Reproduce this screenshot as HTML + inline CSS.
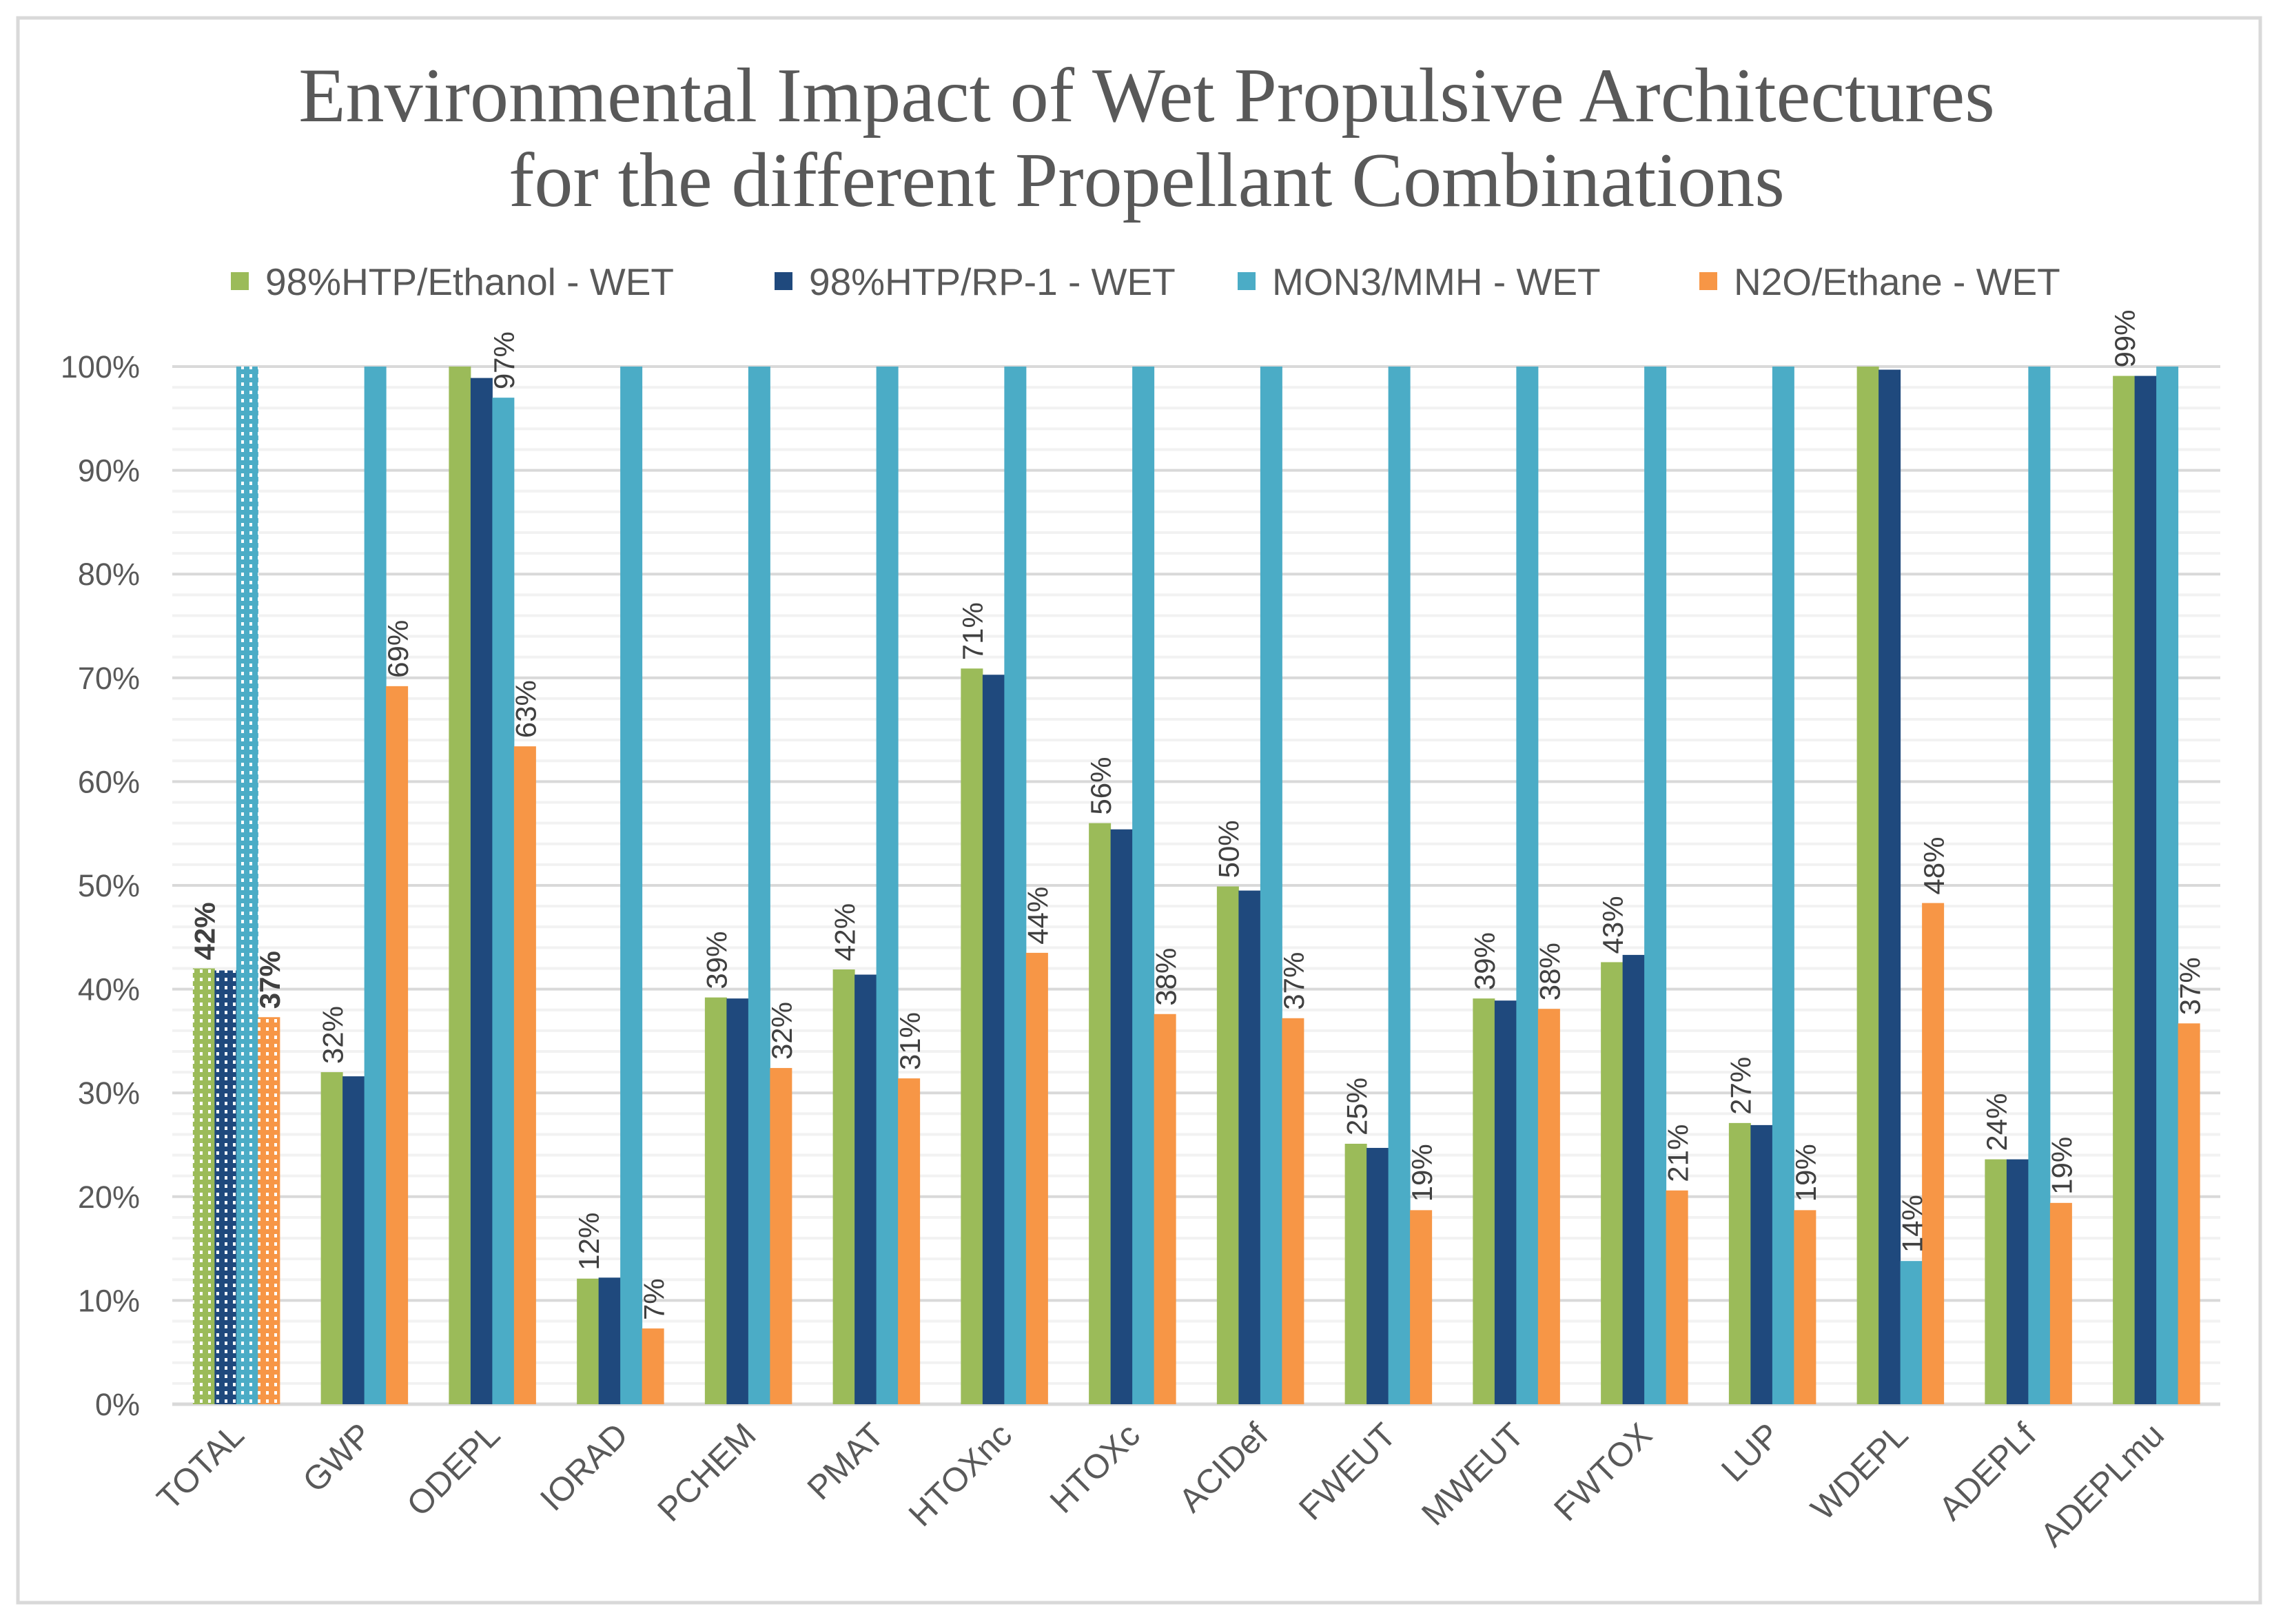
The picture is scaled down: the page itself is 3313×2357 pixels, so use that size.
<!DOCTYPE html>
<html><head><meta charset="utf-8"><style>
html,body{margin:0;padding:0;background:#fff;}
svg{display:block;font-family:"Liberation Sans",sans-serif;}
</style></head><body>
<svg id="chart" width="3313" height="2357" viewBox="0 0 3313 2357" xmlns="http://www.w3.org/2000/svg">
<defs>
<pattern id="p0" width="12" height="12" patternUnits="userSpaceOnUse"><rect width="12" height="12" fill="#9bbb59"/><rect x="2" y="3" width="4" height="5" fill="#fff"/></pattern>
<pattern id="p1" width="12" height="12" patternUnits="userSpaceOnUse"><rect width="12" height="12" fill="#1f497d"/><rect x="2" y="3" width="4" height="5" fill="#fff"/></pattern>
<pattern id="p2" width="12" height="12" patternUnits="userSpaceOnUse"><rect width="12" height="12" fill="#4bacc6"/><rect x="2" y="3" width="4" height="5" fill="#fff"/></pattern>
<pattern id="p3" width="12" height="12" patternUnits="userSpaceOnUse"><rect width="12" height="12" fill="#f79646"/><rect x="2" y="3" width="4" height="5" fill="#fff"/></pattern>
</defs>
<rect x="26" y="26" width="3254" height="2300" fill="#fff" stroke="#d9d9d9" stroke-width="5"/>
<text x="1664" y="176" text-anchor="middle" font-family="Liberation Serif, serif" font-size="112" fill="#595959">Environmental Impact of Wet Propulsive Architectures</text>
<text x="1664" y="299" text-anchor="middle" font-family="Liberation Serif, serif" font-size="112" fill="#595959">for the different Propellant Combinations</text>
<g id="grid"></g><g id="bars"></g><g id="labels"></g><g id="legend"></g>
</svg>
<script>
const categories=["TOTAL","GWP","ODEPL","IORAD","PCHEM","PMAT","HTOXnc","HTOXc","ACIDef","FWEUT","MWEUT","FWTOX","LUP","WDEPL","ADEPLf","ADEPLmu"];
const seriesNames=["98%HTP/Ethanol - WET","98%HTP/RP-1 - WET","MON3/MMH - WET","N2O/Ethane - WET"];
const ethanol=[42,32,100,12.1,39.2,41.9,70.9,56,49.9,25.1,39.1,42.6,27.1,100,23.6,99.1];
const rp1=[41.8,31.6,98.9,12.2,39.1,41.4,70.3,55.4,49.5,24.7,38.9,43.3,26.9,99.7,23.6,99.1];
const mmh=[100,100,97,100,100,100,100,100,100,100,100,100,100,13.8,100,100];
const ethane=[37.3,69.2,63.4,7.3,32.4,31.4,43.5,37.6,37.2,18.7,38.1,20.6,18.7,48.3,19.4,36.7];
// labelled bars: [category index, series index]
const labelled=[[0,0],[0,3],[1,0],[1,3],[2,2],[2,3],[3,0],[3,3],[4,0],[4,3],[5,0],[5,3],[6,0],[6,3],[7,0],[7,3],[8,0],[8,3],[9,0],[9,3],[10,0],[10,3],[11,0],[11,3],[12,0],[12,3],[13,2],[13,3],[14,0],[14,3],[15,0],[15,3]];
const yTicks=[0,10,20,30,40,50,60,70,80,90,100];
const colors=["#9bbb59","#1f497d","#4bacc6","#f79646"];
const series=[ethanol,rp1,mmh,ethane];
const NS="http://www.w3.org/2000/svg";
const L=250,R=3222,Y0=2038,Y100=532;
const step=(R-L)/categories.length, bw=31.5;
const y=v=>Y0-(Y0-Y100)*v/100;
const xb=(c,s)=>L+step*(c+0.5)+(s-2)*bw;
function mk(tag,attrs,parent){const e=document.createElementNS(NS,tag);for(const k in attrs)e.setAttribute(k,attrs[k]);parent.appendChild(e);return e;}
const grid=document.getElementById('grid'),bars=document.getElementById('bars'),labels=document.getElementById('labels'),legend=document.getElementById('legend');
for(let v=2;v<100;v+=2){if(v%10===0)continue;const g=mk('line',{x1:L,x2:R,y1:y(v),y2:y(v),stroke:'#f2f2f2','stroke-width':4},grid);

}
yTicks.forEach(v=>{const g=mk('line',{x1:L,x2:R,y1:y(v),y2:y(v),stroke:'#d9d9d9','stroke-width':v===0?5:4},grid);


const t=mk('text',{x:203,y:y(v)+16,'text-anchor':'end','font-size':45,fill:'#595959'},grid);t.textContent=v+'%';

});
categories.forEach((c,i)=>{series.forEach((s,j)=>{const r=mk('rect',{x:xb(i,j),y:y(s[i]),width:bw+0.5,height:Y0-y(s[i]),fill:i===0?'url(#p'+j+')':colors[j]},bars);

});
const cx=L+step*(i+0.5)+14, cy=2086;
const t=mk('text',{x:cx,y:cy,'text-anchor':'end','font-size':49,fill:'#595959',transform:`rotate(-45 ${cx} ${cy})`},labels);t.textContent=c;

});
labelled.forEach(([i,j])=>{const v=series[j][i];const lx=xb(i,j)+bw/2+16, ly=y(v)-12;
const t=mk('text',{x:lx,y:ly,'font-size':42,fill:'#404040','font-weight':i===0?'bold':'normal',transform:`rotate(-90 ${lx} ${ly})`},labels);t.textContent=Math.round(v)+'%';

});
const lx=[335,1124,1796,2466];
seriesNames.forEach((n,j)=>{const r=mk('rect',{x:lx[j],y:395,width:26,height:26,fill:colors[j]},legend);


const t=mk('text',{x:lx[j]+50,y:428,'font-size':55,fill:'#595959'},legend);t.textContent=n;

});
</script>
</body></html>
